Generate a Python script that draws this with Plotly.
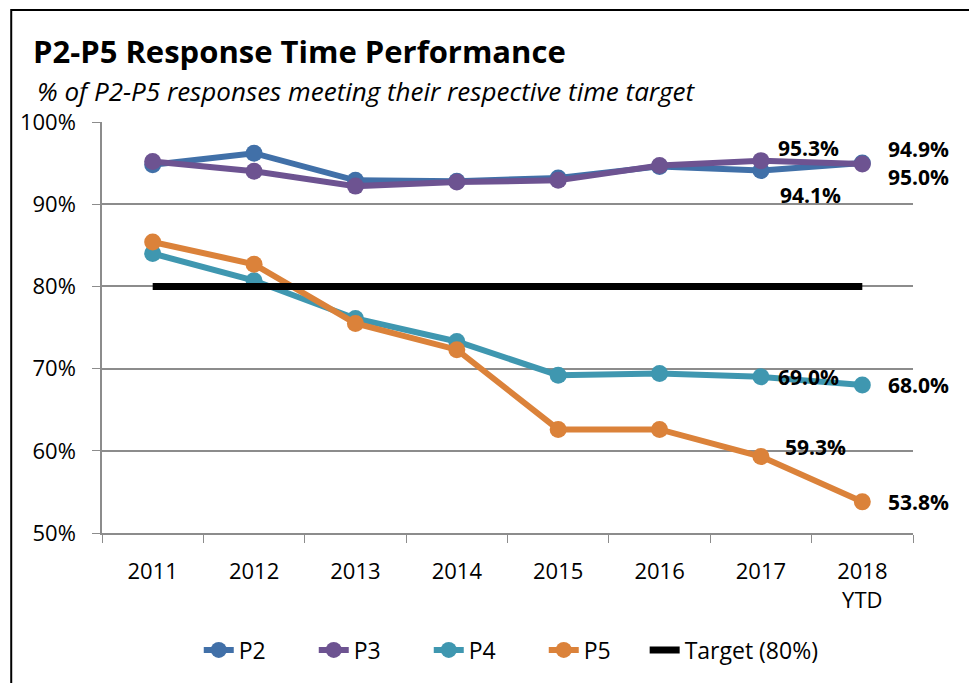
import plotly.graph_objects as go

categories = ["2011", "2012", "2013", "2014", "2015", "2016", "2017", "2018<br>YTD"]
p2 = [94.8, 96.2, 92.9, 92.8, 93.2, 94.6, 94.1, 95.0]
p3 = [95.2, 94.0, 92.2, 92.7, 92.9, 94.7, 95.3, 94.9]
p4 = [84.0, 80.7, 76.1, 73.3, 69.2, 69.4, 69.0, 68.0]
p5 = [85.4, 82.7, 75.5, 72.3, 62.6, 62.6, 59.3, 53.8]
target = [80] * 8

series_names = ["P2", "P3", "P4", "P5"]
series_values = [p2, p3, p4, p5]
colors = ["#4170A8", "#6D5391", "#3F97B0", "#DB823A"]

title_text = "P2-P5 Response Time Performance"
subtitle_text = "% of P2-P5 responses meeting their respective time target"

FONT = "Open Sans"

# figure is offset 8px by the page body margin
W, H = 969, 675
L, R, T, B = 92, 64, 114, 150
PW = W - L - R
PH = H - T - B


def px_x(fx):
    return (fx - L) / PW


def px_y(fy):
    return (H - B - fy) / PH


fig = go.Figure()
for name, vals, col in zip(series_names, series_values, colors):
    fig.add_trace(go.Scatter(
        x=list(range(len(categories))), y=vals, name=name, mode="lines+markers",
        line=dict(color=col, width=6),
        marker=dict(color=col, size=17),
        legend="legend",
    ))
fig.add_trace(go.Scatter(
    x=list(range(len(categories))), y=target, name="Target (80%)", mode="lines",
    line=dict(color="black", width=7),
    legend="legend2",
))

# data labels: (series index, category index, xshift, yshift)
label_spec = [
    (1, 6, 48, 13),
    (0, 6, 50, -24),
    (1, 7, 56, 15),
    (0, 7, 56, -14),
    (2, 6, 48, 0),
    (2, 7, 56, 0),
    (3, 6, 55, 10),
    (3, 7, 56, 0),
]
annotations = []
for si, ci, dx, dy in label_spec:
    v = series_values[si][ci]
    annotations.append(dict(
        x=ci, y=v, xref="x", yref="y",
        text=f"<b>{v:.1f}%</b>", showarrow=False,
        xshift=dx, yshift=dy,
        font=dict(family=FONT, size=21, color="black"),
    ))

annotations.append(dict(
    x=px_x(25), y=px_y(83), xref="paper", yref="paper",
    text=f"<i>{subtitle_text}</i>", showarrow=False,
    xanchor="left", yanchor="middle",
    font=dict(family=FONT, size=26, color="black"),
))

legend_font = dict(family=FONT, size=23, color="black")

fig.update_layout(
    width=W, height=H,
    margin=dict(l=L, r=R, t=T, b=B),
    paper_bgcolor="white", plot_bgcolor="white",
    title=dict(
        text=f"<b>{title_text}</b>",
        x=25 / W, xanchor="left", xref="container",
        y=1 - 44 / H, yanchor="middle", yref="container",
        font=dict(family=FONT, size=31, color="black"),
    ),
    showlegend=True,
    legend=dict(
        orientation="h", x=px_x(189), xanchor="left", y=px_y(642), yanchor="middle",
        font=legend_font,
        traceorder="normal", entrywidth=70, entrywidthmode="pixels",
    ),
    legend2=dict(
        orientation="h", x=px_x(636), xanchor="left", y=px_y(642), yanchor="middle",
        font=legend_font,
    ),
    annotations=annotations,
    shapes=[dict(
        type="rect", xref="paper", yref="paper",
        x0=px_x(1), x1=px_x(990),
        y0=px_y(2), y1=px_y(700),
        line=dict(color="black", width=2), fillcolor="rgba(0,0,0,0)",
        layer="below",
    )],
    font=dict(family=FONT),
)

fig.update_xaxes(
    tickmode="array", tickvals=list(range(len(categories))), ticktext=categories,
    range=[-0.5, len(categories) - 0.5],
    showline=True, linecolor="#8c8c8c", linewidth=1.5,
    ticks="", showgrid=False, zeroline=False,
    ticklabelstandoff=18,
    tickfont=dict(family=FONT, size=22, color="black"),
)
fig.update_yaxes(
    range=[50, 100], dtick=10, ticksuffix="%",
    showline=True, linecolor="#8c8c8c", linewidth=1.5,
    ticks="outside", ticklen=8, tickcolor="#8c8c8c",
    showgrid=True, gridcolor="#8c8c8c", gridwidth=1.5,
    zeroline=False, ticklabelstandoff=12,
    tickfont=dict(family=FONT, size=22, color="black"),
)

# boundary tick marks on x axis (between categories), via minor ticks
fig.update_xaxes(minor=dict(
    tickmode="array", tickvals=[i - 0.5 for i in range(len(categories) + 1)],
    ticks="outside", ticklen=8, tickcolor="#8c8c8c", showgrid=False,
))

fig.write_html("out.html")
